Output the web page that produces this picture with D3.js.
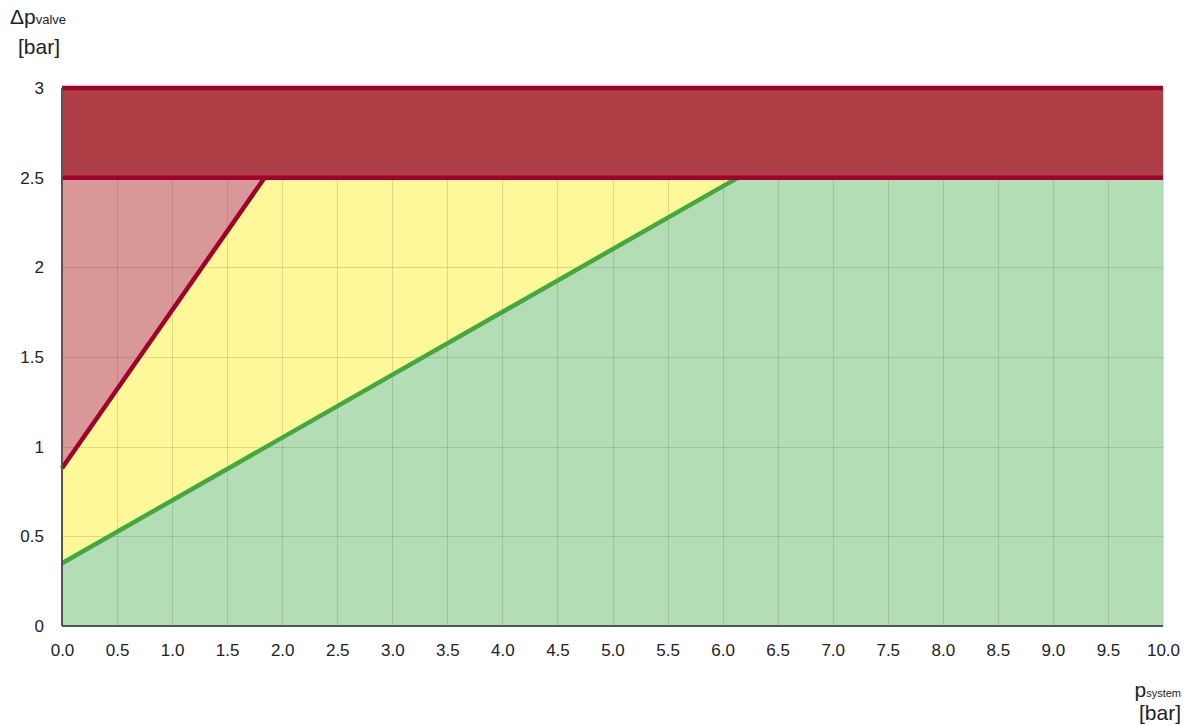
<!DOCTYPE html>
<html><head><meta charset="utf-8">
<script src="https://cdn.jsdelivr.net/npm/d3@7"></script>
<style>body{margin:0;background:#fff;font-family:"Liberation Sans",Arial,sans-serif;}</style>
</head><body><svg id="c" width="1191" height="725"></svg>
<script>
const xTicks = [0,0.5,1,1.5,2,2.5,3,3.5,4,4.5,5,5.5,6,6.5,7,7.5,8,8.5,9,9.5,10];
const yTicks = [0,0.5,1,1.5,2,2.5,3];
const yTickLabels = ["0","0.5","1","1.5","2","2.5","3"];
// boundary lines: dp = k*(1+p)
const redLineX = [0, 1.84];
const redLineY = [0.88, 2.5];
const greenLineX = [0, 6.14];
const greenLineY = [0.35, 2.5];
const bandLow = 2.5, bandHigh = 3;

const svg = d3.select("#c");
const L=62, R=1163, T=88, B=626;
const x = d3.scaleLinear().domain([0,10]).range([L,R]);
const y = d3.scaleLinear().domain([0,3]).range([B,T]);

// green region (below green line)
const gpts = [[0,0],[0,greenLineY[0]],[greenLineX[1],greenLineY[1]],[10,bandLow],[10,0]];
const ypts = [[0,greenLineY[0]],[0,redLineY[0]],[redLineX[1],redLineY[1]],[greenLineX[1],greenLineY[1]]];
const rpts = [[0,redLineY[0]],[0,bandLow],[redLineX[1],redLineY[1]]];
const poly = d3.line().x(d=>x(d[0])).y(d=>y(d[1]));
svg.append("path").attr("d",poly(gpts)+"Z").attr("fill","#b3ddb4");
svg.append("path").attr("d",poly(ypts)+"Z").attr("fill","#fff899");
svg.append("path").attr("d",poly(rpts)+"Z").attr("fill","#d89897");

// grid
const g = svg.append("g").attr("stroke","rgba(60,80,40,0.18)").attr("stroke-width",1);
xTicks.forEach(t=>{ if(t>0) g.append("line").attr("x1",Math.round(x(t))+0.5).attr("x2",Math.round(x(t))+0.5).attr("y1",T).attr("y2",B);});
yTicks.forEach(t=>{ if(t>0) g.append("line").attr("x1",L).attr("x2",R).attr("y1",Math.round(y(t))+0.5).attr("y2",Math.round(y(t))+0.5);});

// top band
svg.append("rect").attr("x",L).attr("y",y(bandHigh)).attr("width",R-L).attr("height",y(bandLow)-y(bandHigh)).attr("fill","#af3e47");

// lines
svg.append("path").attr("d",poly(d3.zip(greenLineX,greenLineY))).attr("stroke","#44a83f").attr("stroke-width",4.5).attr("fill","none");
svg.append("path").attr("d",poly(d3.zip(redLineX,redLineY))).attr("stroke","#a0002d").attr("stroke-width",4.5).attr("fill","none");
[bandLow,bandHigh].forEach(v=>svg.append("line").attr("x1",L).attr("x2",R).attr("y1",y(v)).attr("y2",y(v)).attr("stroke","#a0002d").attr("stroke-width",4.5));

// axes
const xa = svg.append("g").attr("transform",`translate(0,${B})`).call(d3.axisBottom(x).tickValues(xTicks).tickFormat(d3.format(".1f")).tickSize(0).tickPadding(18));
const ya = svg.append("g").attr("transform",`translate(${L},0)`).call(d3.axisLeft(y).tickValues(yTicks).tickFormat((d,i)=>yTickLabels[i]).tickSize(0).tickPadding(18));
[xa,ya].forEach(a=>{a.select(".domain").attr("stroke","#555").attr("stroke-width",2);
  a.selectAll("text").attr("font-family","Liberation Sans, Arial, sans-serif").attr("font-size",17).attr("fill","#222");});
ya.select(".domain").attr("d",`M0,${B}V${T}`);
xa.select(".domain").attr("d",`M${L},0H${R}`);

// axis titles
const t1 = svg.append("text").attr("x",10).attr("y",24).attr("font-size",21).attr("fill","#222");
t1.append("tspan").text("Δp");
t1.append("tspan").attr("font-size",13).text("valve");
svg.append("text").attr("x",18).attr("y",54).attr("font-size",21).attr("fill","#222").text("[bar]");
const t2 = svg.append("text").attr("x",1181).attr("y",697).attr("text-anchor","end").attr("font-size",21).attr("fill","#222");
t2.append("tspan").text("p");
t2.append("tspan").attr("font-size",11).text("system");
svg.append("text").attr("x",1181).attr("y",720).attr("text-anchor","end").attr("font-size",21).attr("fill","#222").text("[bar]");
</script></body></html>
